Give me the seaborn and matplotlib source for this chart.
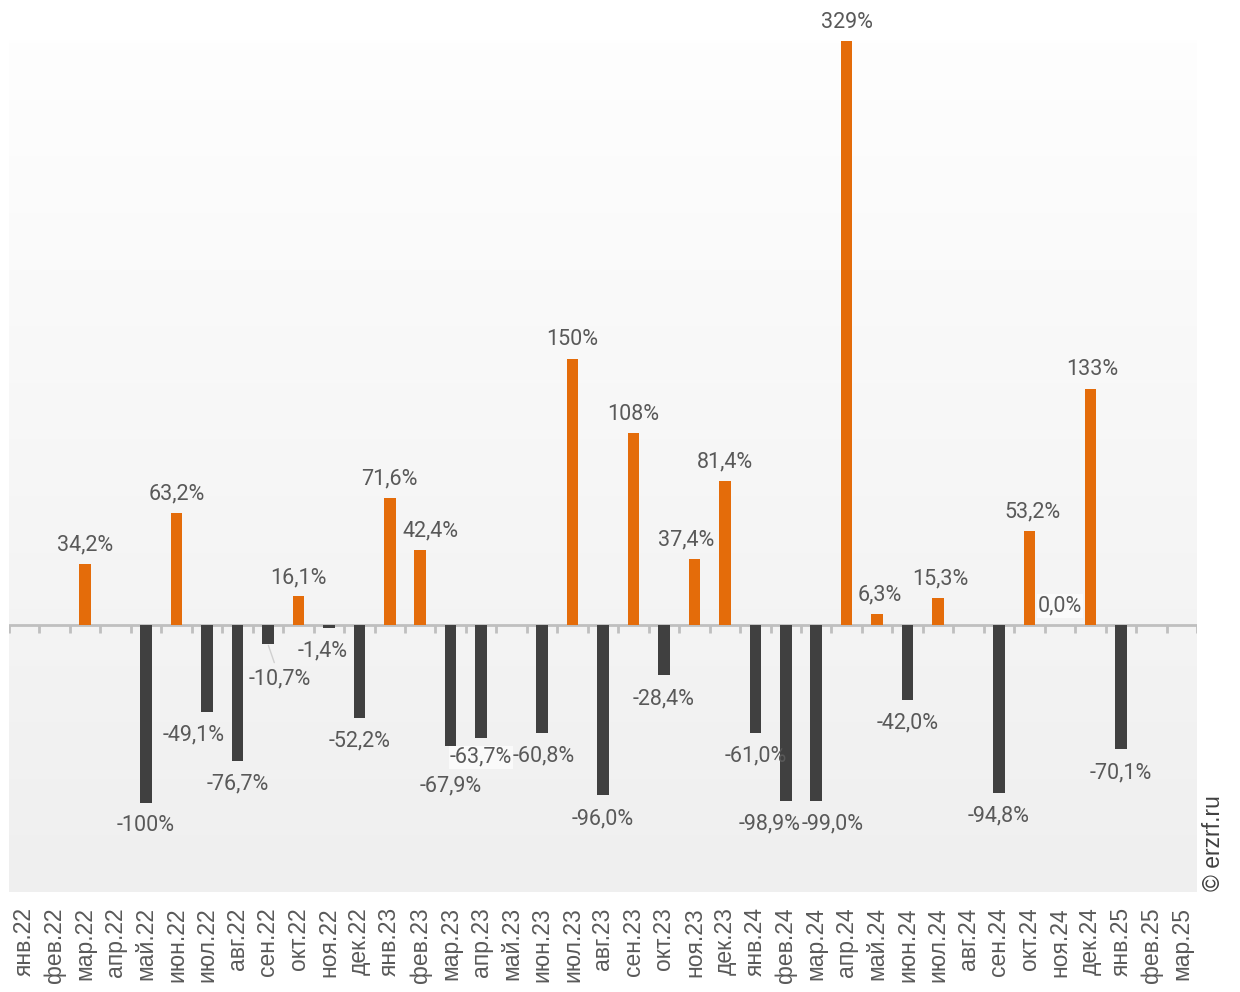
import numpy as np
import pandas as pd
import seaborn as sns
import matplotlib.pyplot as plt
from matplotlib.colors import LinearSegmentedColormap

months = ["янв.22", "фев.22", "мар.22", "апр.22", "май.22", "июн.22", "июл.22", "авг.22",
          "сен.22", "окт.22", "ноя.22", "дек.22", "янв.23", "фев.23", "мар.23", "апр.23",
          "май.23", "июн.23", "июл.23", "авг.23", "сен.23", "окт.23", "ноя.23", "дек.23",
          "янв.24", "фев.24", "мар.24", "апр.24", "май.24", "июн.24", "июл.24", "авг.24",
          "сен.24", "окт.24", "ноя.24", "дек.24", "янв.25", "фев.25", "мар.25"]
values = [np.nan, np.nan, 34.2, np.nan, -100.0, 63.2, -49.1, -76.7,
          -10.7, 16.1, -1.4, -52.2, 71.6, 42.4, -67.9, -63.7,
          np.nan, -60.8, 150.0, -96.0, 108.0, -28.4, 37.4, 81.4,
          -61.0, -98.9, -99.0, 329.0, 6.3, -42.0, 15.3, np.nan,
          -94.8, 53.2, 0.0, 133.0, -70.1, np.nan, np.nan]

ORANGE = "#E46C0A"
DARK = "#404040"
TEXT = "#595959"

sns.set_theme(style="white")
plt.rcParams["font.family"] = ["Roboto", "DejaVu Sans"]

fig = plt.figure(figsize=(12.4, 9.92), dpi=100)
W, H = 1240, 992
ax = fig.add_axes([9 / W, 100 / H, 1188 / W, 852 / H])

# background gradient
grad = np.linspace(0, 1, 256).reshape(-1, 1)
cmap = LinearSegmentedColormap.from_list("bg", ["#fefefe", "#efefef"])
ax.imshow(grad, extent=[0, 1, 0, 1], transform=ax.transAxes, cmap=cmap,
          aspect="auto", zorder=0)

df = pd.DataFrame({"month": months, "value": values}).dropna()
df["sign"] = np.where(df["value"] >= 0, "pos", "neg")
sns.barplot(data=df, x="month", y="value", hue="sign", order=months,
            hue_order=["pos", "neg"], palette={"pos": ORANGE, "neg": DARK},
            dodge=False, width=0.38, saturation=1, legend=False, ax=ax, zorder=3,
            linewidth=0, edgecolor="none")

n = len(months)
ymin, ymax = -150.4, 329.6
ax.set_xlim(-0.5, n - 0.5)
ax.set_ylim(ymin, ymax)

# zero axis with ticks at category boundaries
px_per_unit = 852 / (ymax - ymin)
tick_len = 8 / px_per_unit
ax.axhline(0, color="#bfbfbf", lw=2, zorder=2)
ax.vlines(np.arange(n + 1) - 0.5, -tick_len, 0, color="#bfbfbf", lw=2, zorder=2)

for s in ax.spines.values():
    s.set_visible(False)
ax.set_yticks([])
ax.set_xticks(range(n))
ax.set_xticklabels(months, rotation=90, fontsize=16.5, color=TEXT,
                   family=["Liberation Sans"])
ax.tick_params(axis="x", length=0, pad=11)
ax.set_xlabel("")
ax.set_ylabel("")


def fmt(v):
    s = f"{v:.0f}%" if abs(v) >= 99.95 else f"{v:.1f}%"
    return s.replace(".", ",")


# label adjustments in pixels (dx, dy downward)
special = {6: (-13, 0), 8: (12, 12), 10: (-6, 0), 13: (10, 0), 14: (0, 17),
           15: (0, -4), 17: (2, 0), 22: (-8, 0), 25: (-16, 0), 26: (16, 0),
           28: (3, 0), 30: (2, 0), 33: (3, 0), 34: (0, 0), 35: (2, 0)}
boxed = {15, 34}
leader = {8}
k = 0.72
for i, v in enumerate(values):
    if np.isnan(v):
        continue
    dx, dy = special.get(i, (0, 0))
    base = -19 if v >= 0 else 23
    kw = {}
    z = 5
    if i in boxed:
        kw["bbox"] = dict(boxstyle="square,pad=0.05", fc="#fafafa", ec="none")
        z = 2.5
    if i in leader:
        kw["arrowprops"] = dict(arrowstyle="-", color="#d0d0d0", lw=1,
                                shrinkA=2, shrinkB=1)
    ax.annotate(fmt(v), xy=(i, v), xytext=(dx * k, -(base + dy) * k),
                textcoords="offset points", ha="center", va="center",
                fontsize=15.5, color=TEXT, zorder=z, annotation_clip=False, **kw)

fig.text(1213 / W, 1 - 891 / H, "© erzrf.ru", rotation=90, ha="center",
         va="bottom", fontsize=16.5, color=DARK, family=["Liberation Sans"])

fig.savefig("out.png", dpi=100, facecolor="white")
